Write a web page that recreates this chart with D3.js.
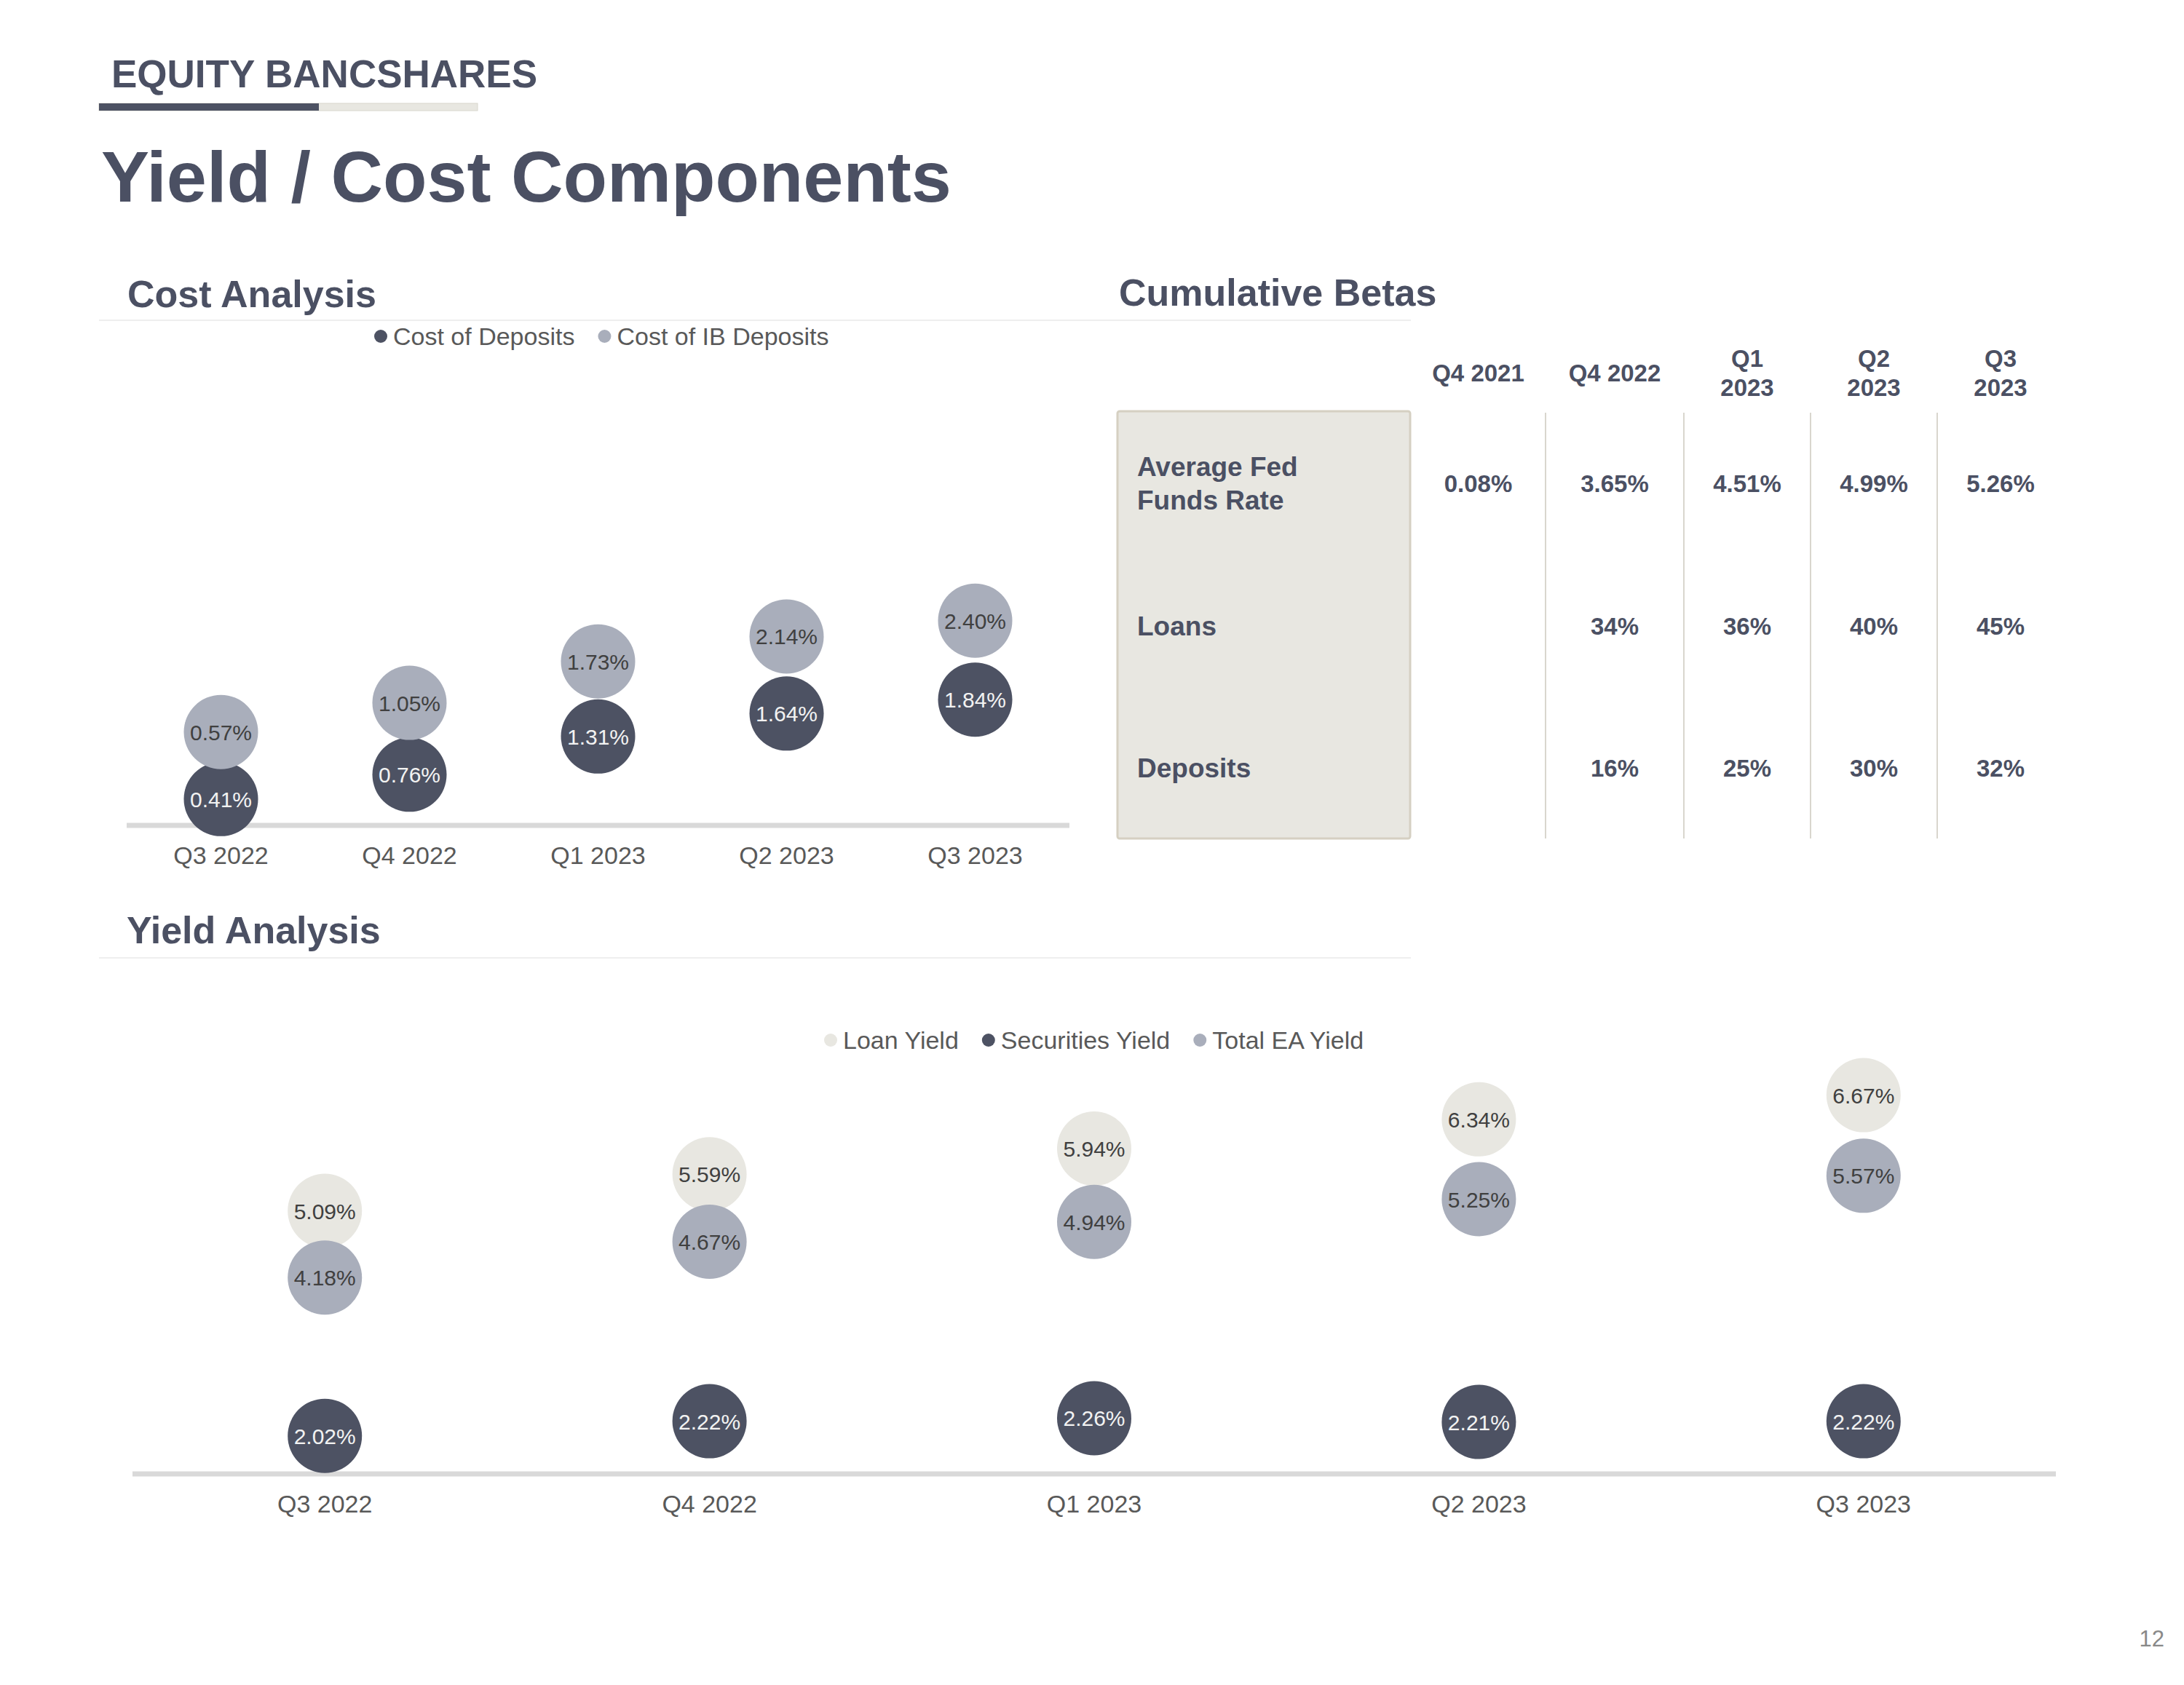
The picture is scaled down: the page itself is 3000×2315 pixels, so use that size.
<!DOCTYPE html>
<html>
<head>
<meta charset="utf-8">
<script src="https://cdn.jsdelivr.net/npm/d3@7"></script>
<style>
  html, body { margin: 0; padding: 0; background: #ffffff; }
  svg { display: block; }
  text { font-family: "Liberation Sans", Arial, Helvetica, sans-serif; }
</style>
</head>
<body>
<script>
// ---------------- DATA ----------------
const costCategories = ["Q3 2022", "Q4 2022", "Q1 2023", "Q2 2023", "Q3 2023"];
const costOfDeposits = [0.41, 0.76, 1.31, 1.64, 1.84];
const costOfIBDeposits = [0.57, 1.05, 1.73, 2.14, 2.40];
const costSeriesNames = ["Cost of Deposits", "Cost of IB Deposits"];

const yieldCategories = ["Q3 2022", "Q4 2022", "Q1 2023", "Q2 2023", "Q3 2023"];
const loanYield = [5.09, 5.59, 5.94, 6.34, 6.67];
const securitiesYield = [2.02, 2.22, 2.26, 2.21, 2.22];
const totalEAYield = [4.18, 4.67, 4.94, 5.25, 5.57];
const yieldSeriesNames = ["Loan Yield", "Securities Yield", "Total EA Yield"];

const betaColumns = ["Q4 2021", "Q4 2022", "Q1 2023", "Q2 2023", "Q3 2023"];
const betaRowLabels = ["Average Fed Funds Rate", "Loans", "Deposits"];
const fedFundsRate = ["0.08%", "3.65%", "4.51%", "4.99%", "5.26%"];
const loanBetas = ["", "34%", "36%", "40%", "45%"];
const depositBetas = ["", "16%", "25%", "30%", "32%"];

// ---------------- STYLE / LAYOUT ----------------
const W = 3000, H = 2315;
const C_DARK = "#4d5263", C_MID = "#a9aebb", C_LIGHT = "#e8e7e1";
const C_HEAD = "#4b5063", C_LEG = "#595959", C_AXIS = "#d9d9d9";
const FONT = '"Liberation Sans", Arial, Helvetica, sans-serif';

const svg = d3.select("body").append("svg")
  .attr("width", W).attr("height", H)
  .attr("viewBox", `0 0 ${W} ${H}`);
svg.append("rect").attr("width", W).attr("height", H).attr("fill", "#ffffff");

// ---------------- HEADER ----------------
svg.append("text").attr("x", 153).attr("y", 120)
  .attr("font-size", 53).attr("font-weight", "bold").attr("fill", C_HEAD)
  .text("EQUITY BANCSHARES");
svg.append("rect").attr("x", 136).attr("y", 142).attr("width", 520).attr("height", 10)
  .attr("fill", C_LIGHT).attr("stroke", "#d8d6cc").attr("stroke-width", 1);
svg.append("rect").attr("x", 136).attr("y", 142).attr("width", 302).attr("height", 10)
  .attr("fill", C_DARK);
svg.append("text").attr("x", 139).attr("y", 277)
  .attr("font-size", 99).attr("font-weight", "bold").attr("fill", C_HEAD)
  .text("Yield / Cost Components");

// section titles + separators
function sectionTitle(txt, x, y) {
  svg.append("text").attr("x", x).attr("y", y)
    .attr("font-size", 52).attr("font-weight", "bold").attr("fill", C_HEAD).text(txt);
}
sectionTitle("Cost Analysis", 175, 422);
sectionTitle("Cumulative Betas", 1537, 420);
sectionTitle("Yield Analysis", 174, 1296);
svg.append("line").attr("x1", 136).attr("x2", 1938).attr("y1", 440).attr("y2", 440)
  .attr("stroke", "#eeeeee").attr("stroke-width", 2);
svg.append("line").attr("x1", 136).attr("x2", 1938).attr("y1", 1316).attr("y2", 1316)
  .attr("stroke", "#eeeeee").attr("stroke-width", 2);

// ---------------- LEGEND HELPER ----------------
function legend(items, x0, cy) {
  const g = svg.append("g");
  let x = x0;
  items.forEach(it => {
    g.append("circle").attr("cx", x + 9).attr("cy", cy).attr("r", 9).attr("fill", it.color);
    const t = g.append("text").attr("x", x + 26).attr("y", cy + 12)
      .attr("font-size", 34).attr("fill", C_LEG).text(it.name);
    x += 26 + t.node().getComputedTextLength() + 32;
  });
}

// ---------------- DOT CHART HELPER ----------------
function dotChart(cfg) {
  const x = d3.scaleBand().domain(cfg.categories).range([cfg.x0, cfg.x1]);
  const g = svg.append("g");
  // axis line
  g.append("line").attr("x1", cfg.x0).attr("x2", cfg.x1)
    .attr("y1", cfg.axisY).attr("y2", cfg.axisY)
    .attr("stroke", C_AXIS).attr("stroke-width", 7);
  // category labels
  const axis = d3.axisBottom(x).tickSize(0).tickPadding(0);
  const ag = g.append("g").attr("transform", `translate(0,${cfg.axisY})`).call(axis);
  ag.select(".domain").remove();
  ag.selectAll("text").attr("font-size", 34).attr("fill", C_LEG)
    .attr("font-family", FONT).attr("dy", 0).attr("y", cfg.labelOffset);
  // series
  cfg.series.forEach(s => {
    const sg = g.append("g");
    const cx = (d, i) => x(cfg.categories[i]) + x.bandwidth() / 2;
    sg.selectAll("circle").data(s.values).join("circle")
      .attr("cx", cx).attr("cy", d => s.scale(d)).attr("r", 51)
      .attr("fill", s.color);
    sg.selectAll("text").data(s.values).join("text")
      .attr("x", cx).attr("y", d => s.scale(d) + 11)
      .attr("text-anchor", "middle").attr("font-size", 30)
      .attr("fill", s.textColor).text(d => d.toFixed(2) + "%");
  });
}

// ---------------- COST ANALYSIS ----------------
const costAxisY = 1134;
const yDeposits = d3.scaleLinear().domain([0, 7]).range([1137, 468]);
const yIBDeposits = d3.scaleLinear().domain([-1, 7]).range([1137, 468]);
legend([
  { name: costSeriesNames[0], color: C_DARK },
  { name: costSeriesNames[1], color: C_MID }
], 514, 462);
dotChart({
  categories: costCategories, x0: 174, x1: 1469, axisY: costAxisY, labelOffset: 53,
  series: [
    { values: costOfDeposits, scale: yDeposits, color: C_DARK, textColor: "#f2f2f2" },
    { values: costOfIBDeposits, scale: yIBDeposits, color: C_MID, textColor: "#404040" }
  ]
});

// ---------------- YIELD ANALYSIS ----------------
const yieldAxisY = 2025;
const yYield = d3.scaleLinear().domain([1.5, 7.5]).range([2025, 1421]);
legend([
  { name: yieldSeriesNames[0], color: C_LIGHT },
  { name: yieldSeriesNames[1], color: C_DARK },
  { name: yieldSeriesNames[2], color: C_MID }
], 1132, 1429);
dotChart({
  categories: yieldCategories, x0: 182, x1: 2824, axisY: yieldAxisY, labelOffset: 53,
  series: [
    { values: loanYield, scale: yYield, color: C_LIGHT, textColor: "#404040" },
    { values: securitiesYield, scale: yYield, color: C_DARK, textColor: "#f2f2f2" },
    { values: totalEAYield, scale: yYield, color: C_MID, textColor: "#404040" }
  ]
});

// ---------------- CUMULATIVE BETAS TABLE ----------------
const tableTop = 565, tableBottom = 1152;
const boxX0 = 1535, boxX1 = 1937;
const colEdges = [1938, 2123, 2313, 2487, 2661, 2835];
const rows = d3.scaleBand().domain(betaRowLabels).range([tableTop, tableBottom]);
const colCenter = i => (colEdges[i] + colEdges[i + 1]) / 2;
const colWidth = i => colEdges[i + 1] - colEdges[i];

const tg = svg.append("g");
tg.append("rect").attr("x", boxX0).attr("y", tableTop).attr("width", boxX1 - boxX0)
  .attr("height", tableBottom - tableTop).attr("rx", 3)
  .attr("fill", "#e8e7e1").attr("stroke", "#d5d0c2").attr("stroke-width", 3);

// column dividers
tg.selectAll("line.div").data(colEdges.slice(1, -1)).join("line")
  .attr("class", "div").attr("x1", d => d).attr("x2", d => d)
  .attr("y1", tableTop + 2).attr("y2", tableBottom)
  .attr("stroke", "#d9d6ce").attr("stroke-width", 2);

// headers (wrap in narrow columns)
betaColumns.forEach((h, i) => {
  const lines = colWidth(i) < 180 ? h.split(" ") : [h];
  const t = tg.append("text").attr("text-anchor", "middle")
    .attr("font-size", 33).attr("font-weight", "bold").attr("fill", C_HEAD);
  lines.forEach((ln, j) => {
    t.append("tspan").attr("x", colCenter(i))
      .attr("y", 524 + (j - (lines.length - 1) / 2) * 40).text(ln);
  });
});

// row labels (word-wrapped)
function wrapWords(str, maxW, size) {
  const probe = tg.append("text").attr("font-size", size).attr("font-weight", "bold");
  const words = str.split(" ");
  const lines = [];
  let cur = "";
  words.forEach(w => {
    const test = cur ? cur + " " + w : w;
    probe.text(test);
    if (probe.node().getComputedTextLength() > maxW && cur) { lines.push(cur); cur = w; }
    else cur = test;
  });
  lines.push(cur);
  probe.remove();
  return lines;
}
betaRowLabels.forEach(lbl => {
  const lines = wrapWords(lbl, 320, 37);
  const cy = rows(lbl) + rows.bandwidth() / 2;
  const t = tg.append("text").attr("font-size", 37).attr("font-weight", "bold").attr("fill", C_HEAD);
  lines.forEach((ln, j) => {
    t.append("tspan").attr("x", 1562)
      .attr("y", cy + 14 + (j - (lines.length - 1) / 2) * 46).text(ln);
  });
});

// values
const rowValues = [fedFundsRate, loanBetas, depositBetas];
rowValues.forEach((vals, r) => {
  const cy = rows(betaRowLabels[r]) + rows.bandwidth() / 2;
  tg.selectAll(null).data(vals).join("text")
    .attr("x", (d, i) => colCenter(i)).attr("y", cy + 13)
    .attr("text-anchor", "middle").attr("font-size", 33).attr("font-weight", "bold")
    .attr("fill", C_HEAD).text(d => d);
});

// page number
svg.append("text").attr("x", 2973).attr("y", 2262).attr("text-anchor", "end")
  .attr("font-size", 31).attr("fill", "#898989").text("12");
</script>
</body>
</html>
